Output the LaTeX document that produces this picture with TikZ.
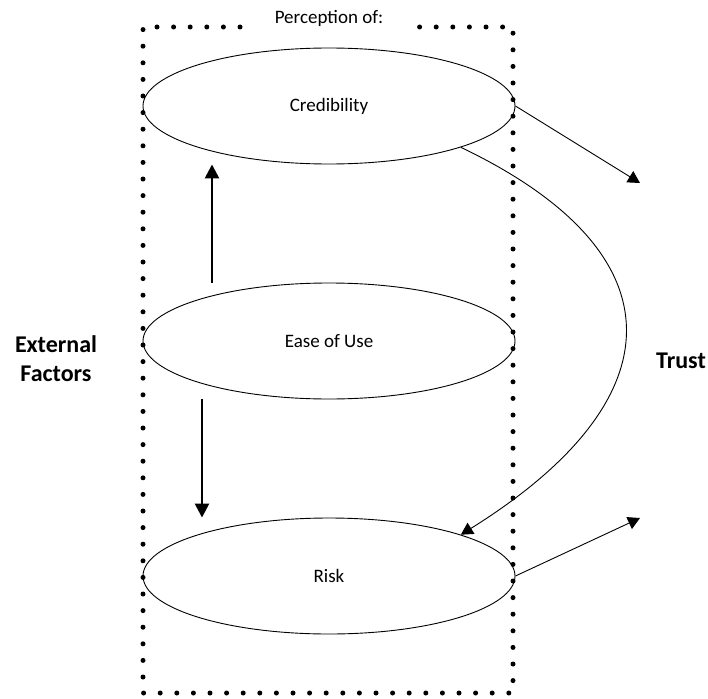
\documentclass[tikz,border=0pt]{standalone}
\usepackage{fontspec}
\setmainfont{Carlito}
\usetikzlibrary{shapes.geometric,arrows.meta}
\begin{document}
\begin{tikzpicture}[x=1pt,y=-1pt,
  factor/.style={ellipse,draw,line width=0.9pt,minimum width=372pt,minimum height=116pt,
    inner sep=0pt,font=\fontsize{19}{23}\selectfont},
  dotframe/.style={line width=5pt,line cap=round,dash pattern=on 0pt off 16.6pt},
  thinarrow/.style={line width=0.9pt,-{Triangle[length=12pt,width=13pt]}},
  thickarrow/.style={line width=2.6pt,-{Triangle[length=14pt,width=14pt]}},
  sidelabel/.style={font=\fontsize{24}{29}\selectfont\bfseries,align=center}]
\useasboundingbox (0,0) rectangle (708,698);

% dotted frame around the three perceptions, open at the top for its title
\draw[dotframe] (240,27) -- (143,27) -- (143,693) -- (513,693) -- (513,27) -- (405,27);
\node[font=\fontsize{19}{23}\selectfont] (title) at (329,18) {Perception of:};

% perceptions
\node[factor] (cred) at (329,106) {Credibility};
\node[factor] (ease) at (329,341) {Ease of Use};
\node[factor] (risk) at (329,576) {Risk};

% side labels
\node[sidelabel] (ext) at (56,359) {External\\Factors};
\node[sidelabel] (trust) at (681,361) {Trust};

% influence of ease of use
\draw[thickarrow] ([xshift=-117pt]ease.north) -- ([xshift=-117pt]cred.south);
\draw[thickarrow] ([xshift=-127pt]ease.south) -- ([xshift=-127pt]risk.north);

% links towards trust
\coordinate (t1) at (640,183);
\coordinate (t2) at (640,518);
\draw[thinarrow] (cred.east) -- (t1);
\draw[thinarrow] (risk.east) -- (t2);

% credibility lowers perceived risk
\draw[thinarrow] (cred.south east) .. controls (680,252) and (680,398) .. (risk.north east);
\end{tikzpicture}
\end{document}
